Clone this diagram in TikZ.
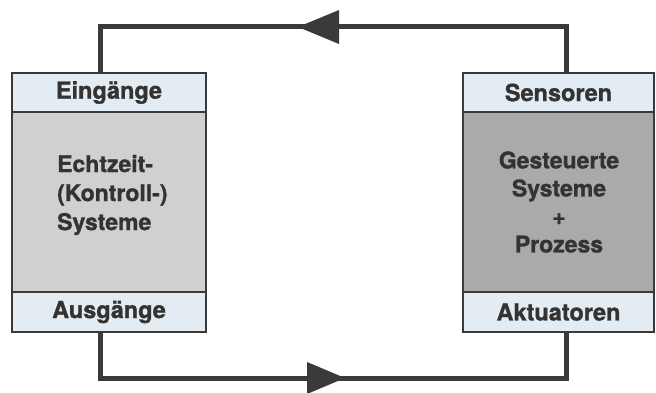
\documentclass[tikz,border=0pt]{standalone}
\usepackage{fontspec}
\setmainfont{TeX Gyre Heros}[BoldFeatures={FakeBold=1.2}]
\usetikzlibrary{calc}
\definecolor{strip}{HTML}{E3ECF2}
\definecolor{lgray}{HTML}{D2D0CF}
\definecolor{dgray}{HTML}{AAAAAA}
\definecolor{ink}{HTML}{3A3A3A}
\definecolor{txt}{HTML}{333333}
\tikzset{
  part/.style={draw=ink, line width=2.6pt, inner sep=0pt, text=txt,
    font=\fontsize{23.5}{28}\selectfont\bfseries, align=center},
  wire/.style={draw=ink, line width=5pt, line join=miter},
  tip/.style={fill=ink}
}
\begin{document}
\begin{tikzpicture}[x=1pt,y=1pt]
\useasboundingbox (0,0) rectangle (656,392);
% left block
\node[part, fill=strip, minimum width=194pt, minimum height=39pt] (lin) at (109,299.5) {Eingänge};
\node[part, fill=lgray, minimum width=194pt, minimum height=180pt] (lmain) at (109,190) {};
\node[part, fill=strip, minimum width=194pt, minimum height=40pt] (lout) at (109,80) {Ausgänge};
\node[text=txt, inner sep=0pt, anchor=west, font=\fontsize{23}{29}\selectfont\bfseries, align=left] (ltext) at (57,197) {Echtzeit-\\(Kontroll-)\\Systeme};
% right block
\node[part, fill=strip, minimum width=191pt, minimum height=39pt] (rin) at (558.5,299.5) {Sensoren};
\node[part, fill=dgray, minimum width=191pt, minimum height=180pt] (rmain) at (558.5,190) {};
\node[part, fill=strip, minimum width=191pt, minimum height=40pt] (rout) at (558.5,80) {Aktuatoren};
\node[text=txt, font=\fontsize{23}{28}\selectfont\bfseries, align=center] (rtext) at (559,190) {Gesteuerte\\Systeme\\+\\Prozess};
% wires
\coordinate (topy) at (0,365);
\coordinate (boty) at (0,14);
\draw[wire] ($(rin.north)+(7.5,0)$) |- (topy -| 100,0) -- ($(lin.north)+(-9,0)$);
\draw[wire] ($(lout.south)+(-9,0)$) |- (boty -| 566,0) -- ($(rout.south)+(7.5,0)$);
% arrowheads
\fill[tip] (298,365) -- (339,382) -- (339,348) -- cycle;
\fill[tip] (345,14) -- (307,30) -- (307,-2) -- cycle;
\end{tikzpicture}
\end{document}
